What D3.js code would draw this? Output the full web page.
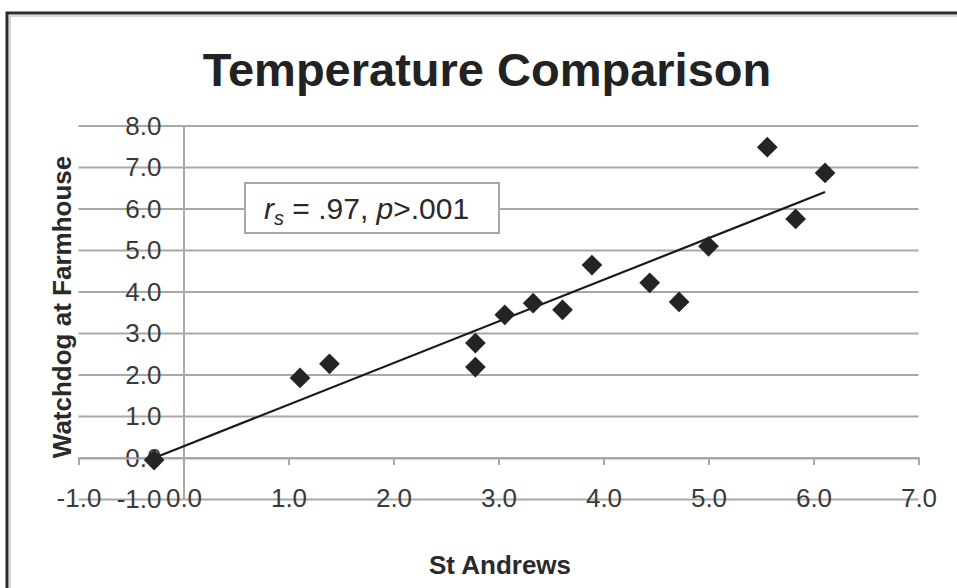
<!DOCTYPE html>
<html>
<head>
<meta charset="utf-8">
<script src="https://cdn.jsdelivr.net/npm/d3@7"></script>
<style>
  body { margin: 0; background: #fff; }
  text { font-family: "Liberation Sans", Arial, sans-serif; }
</style>
</head>
<body>
<div id="chart"></div>
<script>
// St Andrews readings (x) vs Watchdog at Farmhouse readings (y)
const stAndrews = [-0.28, 1.11, 1.39, 2.78, 2.78, 3.06, 3.33, 3.61, 3.89, 4.44, 4.72, 5.00, 5.56, 5.83, 6.11];
const watchdog  = [-0.05, 1.93, 2.27, 2.19, 2.77, 3.45, 3.73, 3.57, 4.65, 4.22, 3.76, 5.10, 7.49, 5.76, 6.87];
const xTicks = [-1, 0, 1, 2, 3, 4, 5, 6, 7];
const yTicks = [-1, 0, 1, 2, 3, 4, 5, 6, 7, 8];

const titleText = "Temperature Comparison";
const xTitle = "St Andrews";
const yTitle = "Watchdog at Farmhouse";

const width = 957, height = 588;
const fmt = d => d.toFixed(1); // plain hyphen for negatives, like Excel

const svg = d3.select("#chart")
    .append("svg")
    .attr("width", width)
    .attr("height", height);

// chart frame
svg.append("rect")
    .attr("x", 7).attr("y", 13)
    .attr("width", width + 20).attr("height", height + 20)
    .attr("fill", "#fff")
    .attr("stroke", "#2a2a2a")
    .attr("stroke-width", 3);
svg.append("rect")
    .attr("x", 10).attr("y", 16)
    .attr("width", width + 20).attr("height", height + 20)
    .attr("fill", "none")
    .attr("stroke", "#b0b0b0")
    .attr("stroke-width", 1);

// scales
const x = d3.scaleLinear().domain([-1, 7]).range([78.5, 918.5]);
const y = d3.scaleLinear().domain([-1, 8]).range([499.5, 126]);

// horizontal gridlines
svg.append("g")
    .selectAll("line")
    .data(yTicks)
    .enter()
    .append("line")
    .attr("x1", x(-1)).attr("x2", x(7))
    .attr("y1", d => y(d)).attr("y2", d => y(d))
    .attr("stroke", "#a8a8a8")
    .attr("stroke-width", 2);

// y axis, crossing at x = 0
const yAxis = svg.append("g")
    .attr("transform", `translate(${x(0)},0)`)
    .call(d3.axisLeft(y).tickValues(yTicks).tickFormat(fmt)
        .tickSizeInner(0).tickSizeOuter(0).tickPadding(22));
yAxis.select(".domain").attr("stroke", "#a8a8a8").attr("stroke-width", 2);
yAxis.selectAll("text")
    .attr("fill", "#3a3a3a")
    .style("font-size", "26px");

// x axis, crossing at y = 0, labels sit low at the bottom of the plot
const xAxis = svg.append("g")
    .attr("transform", `translate(0,${y(0)})`)
    .call(d3.axisBottom(x).tickValues(xTicks).tickFormat(fmt)
        .tickSizeInner(7).tickSizeOuter(7));
xAxis.select(".domain").attr("stroke", "#a8a8a8").attr("stroke-width", 2);
xAxis.selectAll(".tick line").attr("stroke", "#a8a8a8").attr("stroke-width", 2);
xAxis.selectAll("text")
    .attr("y", y(-1) - y(0) - 2)
    .attr("dy", "0.35em")
    .attr("fill", "#3a3a3a")
    .style("font-size", "26px");

// linear trend line (least squares)
const n = stAndrews.length;
const mx = d3.mean(stAndrews), my = d3.mean(watchdog);
let sxy = 0, sxx = 0;
for (let i = 0; i < n; i++) {
    sxy += (stAndrews[i] - mx) * (watchdog[i] - my);
    sxx += (stAndrews[i] - mx) * (stAndrews[i] - mx);
}
const slope = sxy / sxx;
const intercept = my - slope * mx;
const xExt = d3.extent(stAndrews);
svg.append("path")
    .datum(xExt)
    .attr("fill", "none")
    .attr("stroke", "#1a1a1a")
    .attr("stroke-width", 2.2)
    .attr("d", d3.line()
        .x(d => x(d))
        .y(d => y(intercept + slope * d)));

// points
const points = stAndrews.map((v, i) => ({ x: v, y: watchdog[i] }));
svg.append("g")
    .selectAll("path")
    .data(points)
    .enter()
    .append("path")
    .attr("transform", d => `translate(${x(d.x)},${y(d.y)}) rotate(45)`)
    .attr("d", d3.symbol().type(d3.symbolSquare).size(215))
    .attr("fill", "#242424");

// annotation box
svg.append("rect")
    .attr("x", 245).attr("y", 183)
    .attr("width", 254).attr("height", 50)
    .attr("fill", "#fff")
    .attr("stroke", "#a8a8a8")
    .attr("stroke-width", 2);
const note = svg.append("text")
    .attr("x", 264).attr("y", 219)
    .attr("fill", "#2a2a2a")
    .style("font-size", "30px");
note.append("tspan").style("font-style", "italic").text("r");
note.append("tspan").style("font-style", "italic").style("font-size", "20px").attr("dy", 6).text("s");
note.append("tspan").attr("dy", -6).text(" = .97, ");
note.append("tspan").style("font-style", "italic").text("p");
note.append("tspan").text(">.001");

// titles
svg.append("text")
    .attr("x", 487).attr("y", 86)
    .attr("text-anchor", "middle")
    .attr("fill", "#222")
    .style("font-size", "47px")
    .style("font-weight", "bold")
    .text(titleText);

svg.append("text")
    .attr("x", 500).attr("y", 574)
    .attr("text-anchor", "middle")
    .attr("fill", "#2a2a2a")
    .style("font-size", "26px")
    .style("font-weight", "bold")
    .text(xTitle);

svg.append("text")
    .attr("transform", "translate(71,307) rotate(-90)")
    .attr("text-anchor", "middle")
    .attr("fill", "#2a2a2a")
    .style("font-size", "26px")
    .style("font-weight", "bold")
    .text(yTitle);
</script>
</body>
</html>
